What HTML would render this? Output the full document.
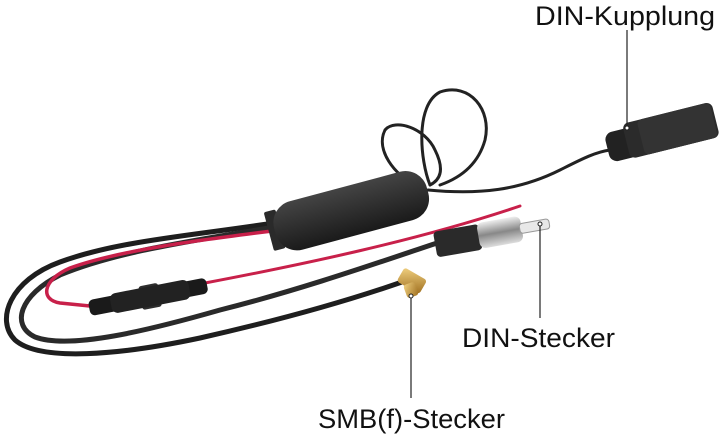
<!DOCTYPE html>
<html><head><style>
html,body{margin:0;padding:0;background:#fff;width:720px;height:436px;overflow:hidden}
.t{font-family:"Liberation Sans",sans-serif;font-size:27px;fill:#111}
</style></head><body>
<svg width="720" height="436" viewBox="0 0 720 436" xmlns="http://www.w3.org/2000/svg">
<defs>
<linearGradient id="bx" x1="0" y1="0" x2="0" y2="1"><stop offset="0" stop-color="#444"/><stop offset="1" stop-color="#1a1a1a"/></linearGradient>
<linearGradient id="mt" x1="0" y1="0" x2="0" y2="1"><stop offset="0" stop-color="#eee"/><stop offset=".5" stop-color="#888"/><stop offset="1" stop-color="#ddd"/></linearGradient>
<linearGradient id="gd" x1="0" y1="0" x2="1" y2="1"><stop offset="0" stop-color="#f0d080"/><stop offset="1" stop-color="#a07020"/></linearGradient>
</defs>
<g fill="none" stroke-linecap="round">
<path d="M415 185 C395 175 375 150 385 130 C395 118 425 128 435 150 C445 170 440 180 430 185" stroke="#222" stroke-width="3"/>
<path d="M430 185 C420 160 415 105 440 92 C470 82 492 110 485 140 C478 165 460 178 440 185" stroke="#222" stroke-width="3"/>
<path d="M428 190 C480 195 520 190 560 170 C580 160 595 152 610 150" stroke="#222" stroke-width="3"/>
<path d="M280 222 C200 235 120 240 60 262 C10 280 -5 320 15 340 C40 362 120 355 200 338 C280 320 350 300 402 282" stroke="#1e1e1e" stroke-width="5"/>
<path d="M280 226 C200 240 120 250 60 275 C20 295 10 325 35 337 C70 350 150 330 220 310 C300 290 380 262 440 242" stroke="#2a2a2a" stroke-width="5"/>
<path d="M280 230 C200 240 120 250 70 268 C42 280 40 300 60 303 L90 306" stroke="#c8204a" stroke-width="3.5"/>
<path d="M205 283 C300 265 420 240 520 206" stroke="#c8204a" stroke-width="3"/>
</g>
<g transform="rotate(-15 350 210)">
<rect x="266" y="190" width="12" height="40" rx="2" fill="#2a2a2a"/>
<rect x="272" y="186" width="158" height="50" rx="22" fill="url(#bx)"/>
</g>
<g transform="rotate(-11 147 296)">
<rect x="88" y="289" width="120" height="16" rx="5" fill="#1a1a1a"/>
<rect x="140" y="285" width="20" height="24" rx="3" fill="#2e2e2e"/>
<rect x="110" y="287" width="80" height="20" rx="6" fill="#222"/>
</g>
<g transform="rotate(-10 490 233)">
<rect x="434" y="222" width="46" height="26" rx="4" fill="#2a2a2a"/>
<rect x="478" y="221" width="44" height="26" rx="6" fill="url(#mt)"/>
<rect x="520" y="229" width="30" height="10" rx="3" fill="#e8e8e8" stroke="#999"/>
</g>
<g transform="rotate(30 410 282)">
<rect x="398" y="272" width="26" height="16" rx="3" fill="url(#gd)"/>
</g>
<rect x="405" y="283" width="12" height="14" rx="3" fill="url(#gd)" transform="rotate(-20 411 290)"/>
<g transform="rotate(-14 660 132)">
<rect x="605" y="120" width="30" height="30" rx="8" fill="#222"/>
<rect x="625" y="115" width="92" height="36" rx="6" fill="#2b2b2b"/>
<rect x="640" y="115" width="75" height="36" rx="5" fill="#333"/>
</g>
<g stroke="#222" stroke-width="1.2" fill="none">
<line x1="627" y1="30" x2="627" y2="126"/>
<line x1="540" y1="225" x2="540" y2="318"/>
<line x1="411" y1="297" x2="411" y2="398"/>
</g>
<circle cx="627" cy="128" r="2" fill="#fff" stroke="#222"/>
<circle cx="540" cy="224" r="2" fill="#fff" stroke="#222"/>
<circle cx="411" cy="296" r="2" fill="#fff" stroke="#222"/>
<text class="t" x="535" y="25" textLength="180" lengthAdjust="spacingAndGlyphs">DIN-Kupplung</text>
<text class="t" x="462" y="347" textLength="153" lengthAdjust="spacingAndGlyphs">DIN-Stecker</text>
<text class="t" x="318" y="428" textLength="187" lengthAdjust="spacingAndGlyphs">SMB(f)-Stecker</text>
</svg>
</body></html>
